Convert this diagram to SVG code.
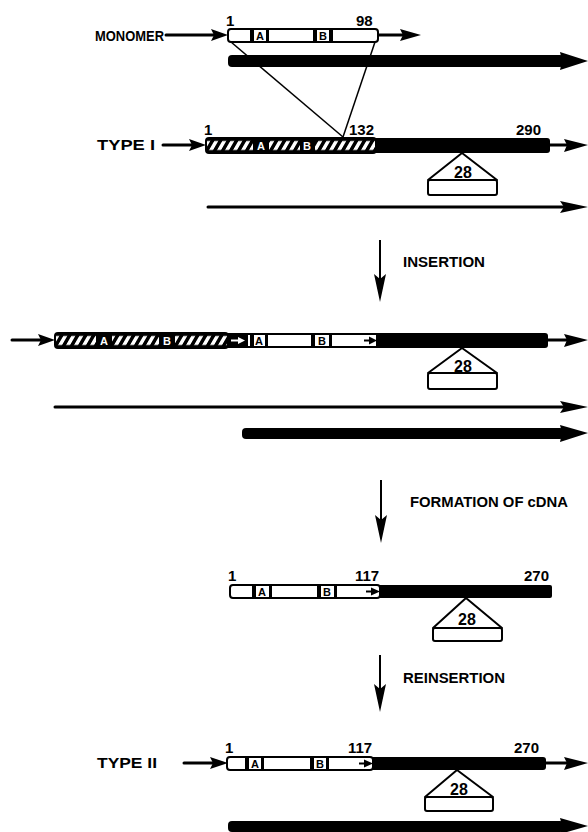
<svg xmlns="http://www.w3.org/2000/svg" width="588" height="832" viewBox="0 0 588 832">
<style>
.t{font-family:"Liberation Sans",Arial,sans-serif;font-weight:bold;font-size:14px;fill:#000}
.n{font-family:"Liberation Sans",Arial,sans-serif;font-weight:bold;font-size:15px;fill:#000}
.n28{font-family:"Liberation Sans",Arial,sans-serif;font-weight:bold;font-size:16px;fill:#000;text-anchor:middle}
.ti{font-family:"Liberation Sans",Arial,sans-serif;font-weight:bold;font-size:11px;fill:#000;text-anchor:middle}
.tw{font-family:"Liberation Sans",Arial,sans-serif;font-weight:bold;font-size:11px;fill:#fff;text-anchor:middle}
.ln{stroke:#000;stroke-width:3;fill:none;stroke-linecap:round}
.th{stroke:#000;stroke-width:1.5;fill:none}
.vl{stroke:#000;stroke-width:2;fill:none}
.box{fill:#fff;stroke:#000;stroke-width:2}
.blk{fill:#000}
.wf{fill:#fff}
.hat{fill:url(#hatch);stroke:#000;stroke-width:2}
.tri{fill:#fff;stroke:#000;stroke-width:2;stroke-linejoin:round}
</style>
<defs>
<pattern id="hatch" patternUnits="userSpaceOnUse" width="8" height="15" patternTransform="skewX(-30)">
<rect width="8" height="15" fill="#000"/>
<rect x="2" y="3" width="4" height="9" fill="#fff"/>
</pattern>
</defs>

<g id="monomer">
<text class="t" x="95" y="41" textLength="69" lengthAdjust="spacingAndGlyphs">MONOMER</text>
<line class="ln" x1="166" y1="35" x2="214" y2="35"/>
<polygon class="blk" points="228,35 211,29 214,35 211,41"/>
<rect class="box" x="228" y="29" width="150" height="13" rx="3"/>
<rect class="blk" x="250" y="30" width="4" height="11"/>
<text class="ti" x="260" y="40">A</text>
<rect class="blk" x="266" y="30" width="3" height="11"/>
<rect class="blk" x="313" y="30" width="4" height="11"/>
<text class="ti" x="323" y="40">B</text>
<rect class="blk" x="329" y="30" width="4" height="11"/>
<text class="n" x="226" y="26">1</text>
<text class="n" x="356" y="26">98</text>
<line class="ln" x1="379" y1="35" x2="404" y2="35"/>
<polygon class="blk" points="421,35 400,29 403,35 400,41"/>
<rect class="blk" x="228" y="55" width="336" height="12" rx="4"/>
<polygon class="blk" points="588,61 560,52 562,61 560,70"/>
</g>

<g id="type1">
<text class="t" x="97" y="150" textLength="58" lengthAdjust="spacingAndGlyphs">TYPE I</text>
<line class="ln" x1="163" y1="145" x2="193" y2="145"/>
<polygon class="blk" points="206,145 189,139 192,145 189,151"/>
<g transform="translate(206,138)">
<rect class="blk" x="0" y="0" width="344" height="15" rx="3"/>
<rect class="hat" x="0" y="0" width="170" height="15" rx="3"/>
<rect class="blk" x="47" y="1" width="16" height="13"/>
<text class="tw" x="55" y="12">A</text>
<rect class="blk" x="94" y="1" width="15" height="13"/>
<text class="tw" x="101" y="12">B</text>
</g>
<text class="n" x="204" y="135">1</text>
<text class="n" x="349" y="135">132</text>
<text class="n" x="516" y="135">290</text>
<line class="ln" x1="549" y1="145" x2="570" y2="145"/>
<polygon class="blk" points="588,145 564,139 567,145 564,152"/>
<polygon class="tri" points="462,153 428,180 497,180"/>
<rect class="tri" x="428" y="180" width="69" height="15" rx="2"/>
<text class="n28" x="463" y="178">28</text>
<line class="ln" x1="208" y1="207" x2="568" y2="207"/>
<polygon class="blk" points="588,207 560,201 564,207 560,213"/>
</g>

<g id="insertion-product">
<line class="ln" x1="12" y1="340" x2="42" y2="340"/>
<polygon class="blk" points="55,340 38,334 41,340 38,346"/>
<g transform="translate(55,333)">
<rect class="blk" x="0" y="0" width="493" height="15" rx="3"/>
<rect class="hat" x="0" y="0" width="173" height="15" rx="3"/>
<rect class="blk" x="41" y="1" width="16" height="13"/>
<text class="tw" x="49" y="12">A</text>
<rect class="blk" x="104" y="1" width="16" height="13"/>
<text class="tw" x="112" y="12">B</text>
<rect class="blk" x="172" y="1" width="21" height="13"/>
<line x1="176" y1="7.5" x2="183" y2="7.5" stroke="#fff" stroke-width="2"/>
<polygon class="wf" points="190,7.5 183,4 183,11"/>
<rect class="box" x="192" y="1" width="130" height="13"/>
<rect class="blk" x="195" y="1" width="4" height="13"/>
<text class="ti" x="204" y="12">A</text>
<rect class="blk" x="210" y="1" width="3" height="13"/>
<rect class="blk" x="256" y="1" width="4" height="13"/>
<text class="ti" x="267" y="12">B</text>
<rect class="blk" x="274" y="1" width="3" height="13"/>
<line x1="309" y1="7.5" x2="315" y2="7.5" stroke="#000" stroke-width="2"/>
<polygon class="blk" points="322,7.5 314,3.5 314,11.5"/>
</g>
<line class="ln" x1="548" y1="340" x2="570" y2="340"/>
<polygon class="blk" points="588,340 564,334 567,340 564,347"/>
<polygon class="tri" points="462,348 428,373 497,373"/>
<rect class="tri" x="428" y="373" width="69" height="16" rx="2"/>
<text class="n28" x="463" y="372">28</text>
<line class="ln" x1="55" y1="407" x2="568" y2="407"/>
<polygon class="blk" points="588,407 560,401 564,407 560,413"/>
<rect class="blk" x="242" y="428" width="322" height="11" rx="4"/>
<polygon class="blk" points="588,433 560,425 562,433 560,442"/>
</g>

<g id="cdna">
<rect class="blk" x="230" y="585" width="322" height="13" rx="2"/>
<rect class="box" x="230" y="585" width="150" height="13" rx="3"/>
<rect class="blk" x="252" y="586" width="4" height="11"/>
<text class="ti" x="262" y="596">A</text>
<rect class="blk" x="269" y="586" width="3" height="11"/>
<rect class="blk" x="317" y="586" width="4" height="11"/>
<text class="ti" x="327" y="596">B</text>
<rect class="blk" x="334" y="586" width="3" height="11"/>
<line x1="366" y1="591.5" x2="372" y2="591.5" stroke="#000" stroke-width="2"/>
<polygon class="blk" points="380,591.5 371,587.5 371,595.5"/>
<text class="n" x="228" y="581">1</text>
<text class="n" x="355" y="581">117</text>
<text class="n" x="524" y="581">270</text>
<polygon class="tri" points="466,598 433,628 502,628"/>
<rect class="tri" x="433" y="628" width="69" height="13" rx="2"/>
<text class="n28" x="467" y="625">28</text>
</g>

<g id="type2">
<text class="t" x="97" y="768" textLength="60" lengthAdjust="spacingAndGlyphs">TYPE II</text>
<line class="ln" x1="184" y1="763" x2="214" y2="763"/>
<polygon class="blk" points="228,763 210,757 213,763 210,769"/>
<rect class="blk" x="227" y="757" width="319" height="13" rx="3"/>
<rect class="box" x="227" y="757" width="146" height="13" rx="3"/>
<rect class="blk" x="245" y="758" width="4" height="11"/>
<text class="ti" x="255" y="768">A</text>
<rect class="blk" x="261" y="758" width="3" height="11"/>
<rect class="blk" x="310" y="758" width="4" height="11"/>
<text class="ti" x="320" y="768">B</text>
<rect class="blk" x="326" y="758" width="3" height="11"/>
<line x1="359" y1="763.5" x2="365" y2="763.5" stroke="#000" stroke-width="2"/>
<polygon class="blk" points="373,763.5 364,759.5 364,767.5"/>
<text class="n" x="225" y="753">1</text>
<text class="n" x="348" y="753">117</text>
<text class="n" x="514" y="753">270</text>
<line class="ln" x1="545" y1="763" x2="570" y2="763"/>
<polygon class="blk" points="588,763 564,757 567,763 564,770"/>
<polygon class="tri" points="457,770 425,797 493,797"/>
<rect class="tri" x="425" y="797" width="68" height="14" rx="2"/>
<text class="n28" x="459" y="795">28</text>
<rect class="blk" x="228" y="821" width="336" height="11" rx="4"/>
<polygon class="blk" points="588,826 560,818 562,826 560,834"/>
</g>

<g id="connectors">
<line class="th" x1="231" y1="42" x2="343" y2="137"/>
<line class="th" x1="375" y1="42" x2="343" y2="137"/>
<line class="vl" x1="380" y1="240" x2="380" y2="280"/>
<polygon class="blk" points="380,302 374,274 380,279 386,274"/>
<line class="vl" x1="381" y1="480" x2="381" y2="520"/>
<polygon class="blk" points="381,543 375,515 381,520 387,515"/>
<line class="vl" x1="380" y1="655" x2="380" y2="690"/>
<polygon class="blk" points="380,712 374,684 380,689 386,684"/>
</g>

<g id="step-labels">
<text class="t" x="403" y="267" textLength="82" lengthAdjust="spacingAndGlyphs">INSERTION</text>
<text class="t" x="410" y="507" textLength="158" lengthAdjust="spacingAndGlyphs">FORMATION OF cDNA</text>
<text class="t" x="403" y="683" textLength="102" lengthAdjust="spacingAndGlyphs">REINSERTION</text>
</g>
</svg>
